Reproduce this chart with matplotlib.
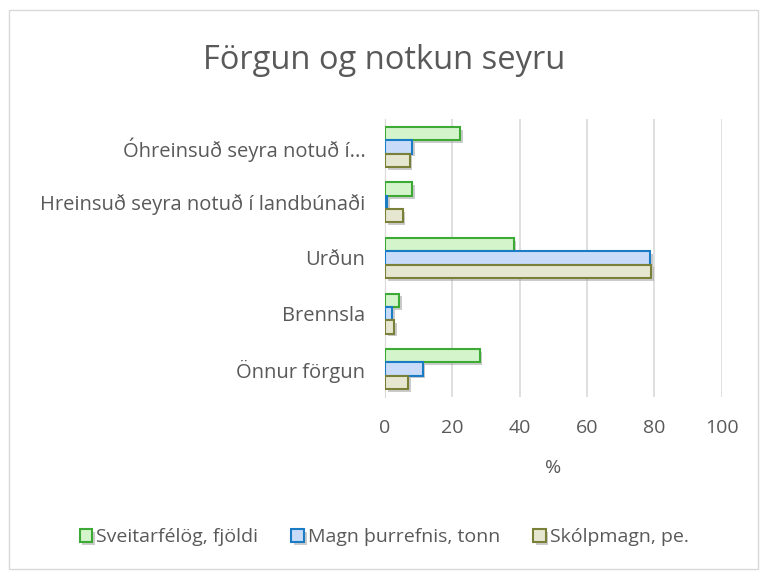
import numpy as np
import matplotlib.pyplot as plt
import matplotlib.patheffects as pe
from matplotlib.patches import Rectangle

plt.rcParams['font.family'] = ['Open Sans', 'DejaVu Sans']

categories = ['Óhreinsuð seyra notuð í...', 'Hreinsuð seyra notuð í landbúnaði',
              'Urðun', 'Brennsla', 'Önnur förgun']
series_names = ['Sveitarfélög, fjöldi', 'Magn þurrefnis, tonn', 'Skólpmagn, pe.']
sveitarfelog = [22.3, 8.0, 38.2, 4.2, 28.1]
magn = [8.0, 0.6, 78.6, 2.2, 11.2]
skolpmagn = [7.4, 5.3, 79.0, 2.8, 6.9]
xticks = [0, 20, 40, 60, 80, 100]

faces = ['#d4f5cc', '#c8dcfa', '#e5e7d0']
edges = ['#3daa35', '#1a7cc4', '#7b8038']
text_col = '#595959'

fig = plt.figure(figsize=(7.68, 5.81), dpi=100)
fig.patches.append(Rectangle((0.012, 0.02), 0.975, 0.962, transform=fig.transFigure,
                             fill=False, edgecolor='#d9d9d9', linewidth=1))
ax = fig.add_axes([0.501, 0.317, 0.439, 0.478])

y = np.arange(len(categories))
h = 0.24
shadow = [pe.SimplePatchShadow(offset=(2, -2), shadow_rgbFace='#999999', alpha=0.5), pe.Normal()]
for i, vals in enumerate([sveitarfelog, magn, skolpmagn]):
    bars = ax.barh(y + (i - 1) * h, vals, height=h, color=faces[i], edgecolor=edges[i],
                   linewidth=1.5, label=series_names[i], zorder=3)
    for b in bars:
        b.set_path_effects(shadow)

ax.set_ylim(len(categories) - 0.5, -0.5)
ax.set_xlim(0, 100)
ax.set_xticks(xticks)
ax.set_yticks(y)
ax.set_yticklabels(categories)
ax.tick_params(axis='both', length=0, colors=text_col)
ax.tick_params(axis='x', pad=16, labelsize=14)
ax.tick_params(axis='y', pad=14, labelsize=14.5)
ax.grid(axis='x', color='#d9d9d9', linewidth=1.2, zorder=0)
for s in ['top', 'right', 'bottom']:
    ax.spines[s].set_visible(False)
ax.spines['left'].set_color('#d9d9d9')
ax.set_xlabel('%', fontsize=14, color=text_col, labelpad=16)

fig.suptitle('Förgun og notkun seyru', fontsize=23.5, color=text_col, y=0.925)
fig.legend(loc='lower center', bbox_to_anchor=(0.5, 0.03), ncol=3, frameon=False,
           fontsize=14, labelcolor=text_col, handlelength=0.65, handleheight=0.65,
           handletextpad=0.2, columnspacing=1.7)

plt.savefig('out.png', dpi=100)
